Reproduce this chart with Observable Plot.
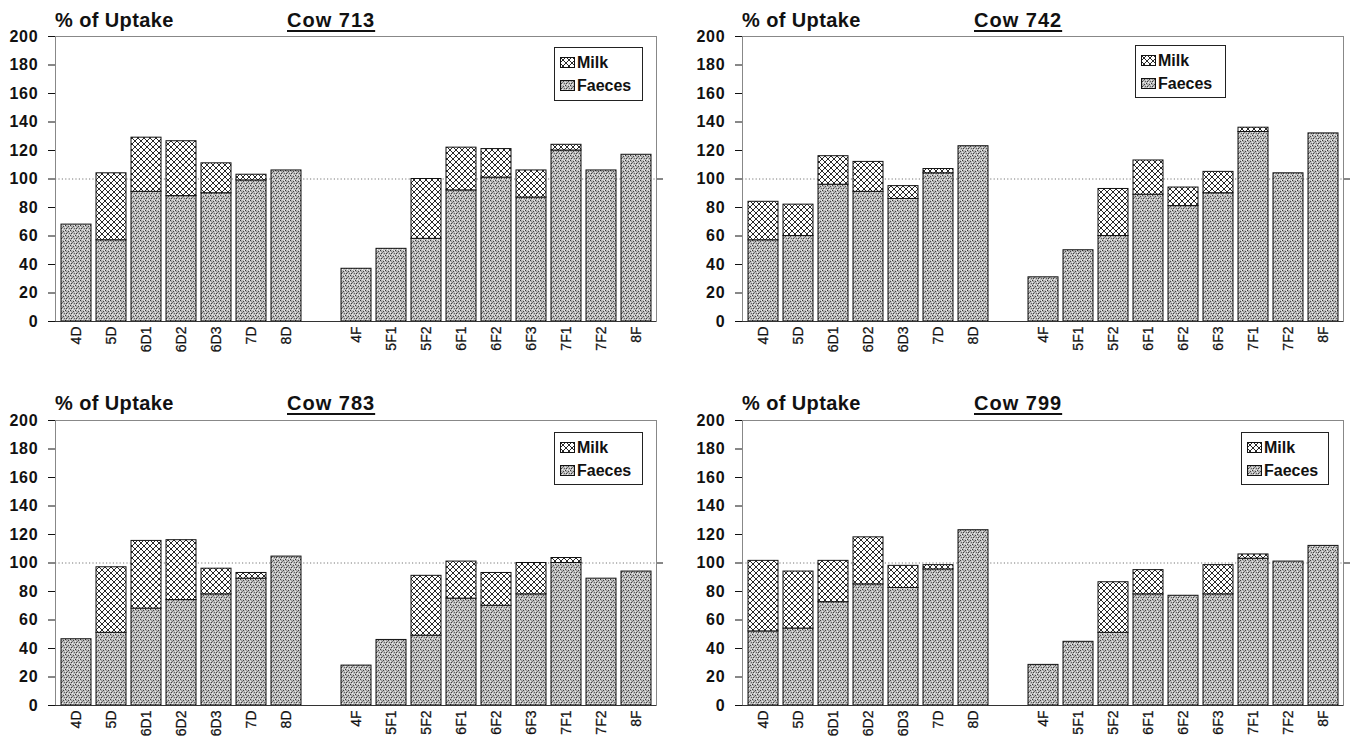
<!DOCTYPE html>
<html><head><meta charset="utf-8">
<script src="https://cdn.jsdelivr.net/npm/d3@7"></script>
<script src="https://cdn.jsdelivr.net/npm/@observablehq/plot@0.6"></script>
<style>
body{margin:0;width:1351px;height:736px;overflow:hidden;background:#fff;position:relative;font-family:"Liberation Sans",Arial,sans-serif;color:#111}
.panel{position:absolute;width:664px;height:361px}
.panel svg{overflow:visible}
.ttl{position:absolute;font-weight:bold;font-size:20px;line-height:22px;white-space:nowrap}
.cow{text-decoration:underline;text-decoration-thickness:2px;text-underline-offset:3px;letter-spacing:1px}
.legend{position:absolute;border:1px solid #222;background:#fff;box-sizing:border-box;padding:3px 4px 0 5px;font-weight:bold;font-size:16px}
.legend .row{display:flex;align-items:center;height:23px;white-space:nowrap}
.legend svg{margin-right:2px}
g[aria-label="y-axis tick label"] text{letter-spacing:0.8px}
g[aria-label="x-axis tick label"] text{stroke:#111;stroke-width:0.25px}
</style></head>
<body>
<svg width="0" height="0" style="position:absolute">
  <defs>
    <pattern id="stipple" patternUnits="userSpaceOnUse" width="5" height="5" shape-rendering="crispEdges">
      <rect width="5" height="5" fill="#bcbcbc"/>
      <rect x="0" y="0" width="1" height="1" fill="#333"/>
      <rect x="3" y="1" width="1" height="1" fill="#444"/>
      <rect x="1" y="3" width="1" height="1" fill="#3a3a3a"/>
      <rect x="4" y="3" width="1" height="1" fill="#666"/>
      <rect x="2" y="2" width="1" height="1" fill="#777"/>
      <rect x="2" y="4" width="1" height="1" fill="#f2f2f2"/>
      <rect x="4" y="0" width="1" height="1" fill="#eee"/>
      <rect x="0" y="2" width="1" height="1" fill="#e8e8e8"/>
      <rect x="1" y="1" width="1" height="1" fill="#999"/>
    </pattern>
    <pattern id="hatch" patternUnits="userSpaceOnUse" width="6" height="6">
      <rect width="6" height="6" fill="#fff"/>
      <path d="M0,0L6,6M-1,5L1,7M5,-1L7,1M0,6L6,0M-1,1L1,-1M5,7L7,5" stroke="#111" stroke-width="0.9"/>
    </pattern>
  </defs>
</svg>
<div id="root"></div>
<script>
// Categories (x axis)
const catsD = ["4D","5D","6D1","6D2","6D3","7D","8D"];
const catsF = ["4F","5F1","5F2","6F1","6F2","6F3","7F1","7F2","8F"];
const GAP = " ";
const categories = [...catsD, ...catsF];
const yTicks = [0,20,40,60,80,100,120,140,160,180,200];

// Cow IDs
const cowIds = ["713","742","783","799"];

// Faeces and Milk (% of uptake), one value per category
const faeces713 = [68, 57, 91, 88, 90, 99, 106, 37, 51, 58, 92, 101, 87, 120, 106, 117];
const milk713   = [0, 47, 38, 38.5, 21, 4, 0, 0, 0, 42, 30, 20, 19, 4, 0, 0];

const faeces742 = [57, 60, 96, 91, 86, 104, 123, 31, 50, 60, 89, 81, 90, 133, 104, 132];
const milk742   = [27, 22, 20, 21, 9, 3, 0, 0, 0, 33, 24, 13, 15, 3, 0, 0];

const faeces783 = [46.5, 51, 68, 74, 78, 89, 104.5, 28, 46, 49, 75, 70, 78, 100, 89, 94];
const milk783   = [0, 46, 47.5, 42, 18, 4, 0, 0, 0, 42, 26, 23, 22, 3.5, 0, 0];

const faeces799 = [52, 54, 72.5, 85, 82.5, 95.5, 123, 28.5, 44.7, 51, 78, 77, 78, 103, 101, 112];
const milk799   = [49.5, 40, 29, 33, 15.5, 3, 0, 0, 0, 35.5, 17, 0, 20.5, 3, 0, 0];

const faecesByCow = [faeces713, faeces742, faeces783, faeces799];
const milkByCow = [milk713, milk742, milk783, milk799];

const panelPos = [{left:0, top:0}, {left:687, top:0}, {left:0, top:384}, {left:687, top:384}];
const legendPos = [{left:554, top:47, w:89, h:54}, {left:448, top:45, w:91, h:53}, {left:554, top:48, w:89, h:53}, {left:554, top:48, w:88, h:53}];

const xDomain = [...catsD, GAP, ...catsF];
const root = document.getElementById("root");

cowIds.forEach((cow, i) => {
  const rows = categories.map((c, j) => ({cat: c, faeces: faecesByCow[i][j], milk: milkByCow[i][j]}));
  const panel = document.createElement("div");
  panel.className = "panel";
  panel.style.left = panelPos[i].left + "px";
  panel.style.top = panelPos[i].top + "px";

  const chart = Plot.plot({
    width: 664, height: 361,
    marginLeft: 55, marginRight: 8, marginTop: 36, marginBottom: 40,
    style: {fontFamily: "'Liberation Sans', Arial, sans-serif", background: "transparent", color: "#111"},
    x: {domain: xDomain, paddingInner: 0.15, paddingOuter: 0.08, label: null},
    y: {domain: [0, 200], label: null},
    marks: [
      Plot.frame({stroke: "#888"}),
      Plot.ruleY([100], {stroke: "#777", strokeDasharray: "1.2,2.2"}),
      Plot.barY(rows, {x: "cat", y: "faeces", fill: "url(#stipple)", stroke: "#111", strokeWidth: 1}),
      Plot.barY(rows.filter(d => d.milk > 0), {x: "cat", y1: "faeces", y2: d => d.faeces + d.milk, fill: "url(#hatch)", stroke: "#111", strokeWidth: 1}),
      Plot.ruleY([0], {stroke: "#333"}),
      Plot.axisY({ticks: yTicks, tickSize: 7, tickPadding: 10, fontSize: 16, fontWeight: "bold", label: null}),
      Plot.axisY({anchor: "right", ticks: [100], tickSize: 6, tickFormat: () => "", label: null}),
      Plot.axisX({tickRotate: -90, tickSize: 0, tickPadding: 5, fontSize: 14, tickFormat: d => d === GAP ? "" : d, label: null})
    ]
  });
  panel.appendChild(chart);

  const t1 = document.createElement("div");
  t1.className = "ttl";
  t1.style.left = "55px"; t1.style.top = (i < 2 ? 9 : 8) + "px";
  t1.style.letterSpacing = "0.4px";
  t1.textContent = "% of Uptake";
  panel.appendChild(t1);

  const t2 = document.createElement("div");
  t2.className = "ttl cow";
  t2.style.left = "287px"; t2.style.top = (i < 2 ? 9 : 8) + "px";
  t2.textContent = "Cow " + cow;
  panel.appendChild(t2);

  const lg = document.createElement("div");
  lg.className = "legend";
  const lp = legendPos[i];
  lg.style.left = lp.left + "px"; lg.style.top = lp.top + "px";
  lg.style.width = lp.w + "px"; lg.style.height = lp.h + "px";
  lg.innerHTML =
    '<div class="row"><svg width="15" height="11"><rect x="0.5" y="0.5" width="14" height="10" fill="url(#hatch)" stroke="#111"/></svg>Milk</div>' +
    '<div class="row"><svg width="15" height="11"><rect x="0.5" y="0.5" width="14" height="10" fill="url(#stipple)" stroke="#111"/></svg>Faeces</div>';
  panel.appendChild(lg);

  root.appendChild(panel);
});
</script>
</body></html>
